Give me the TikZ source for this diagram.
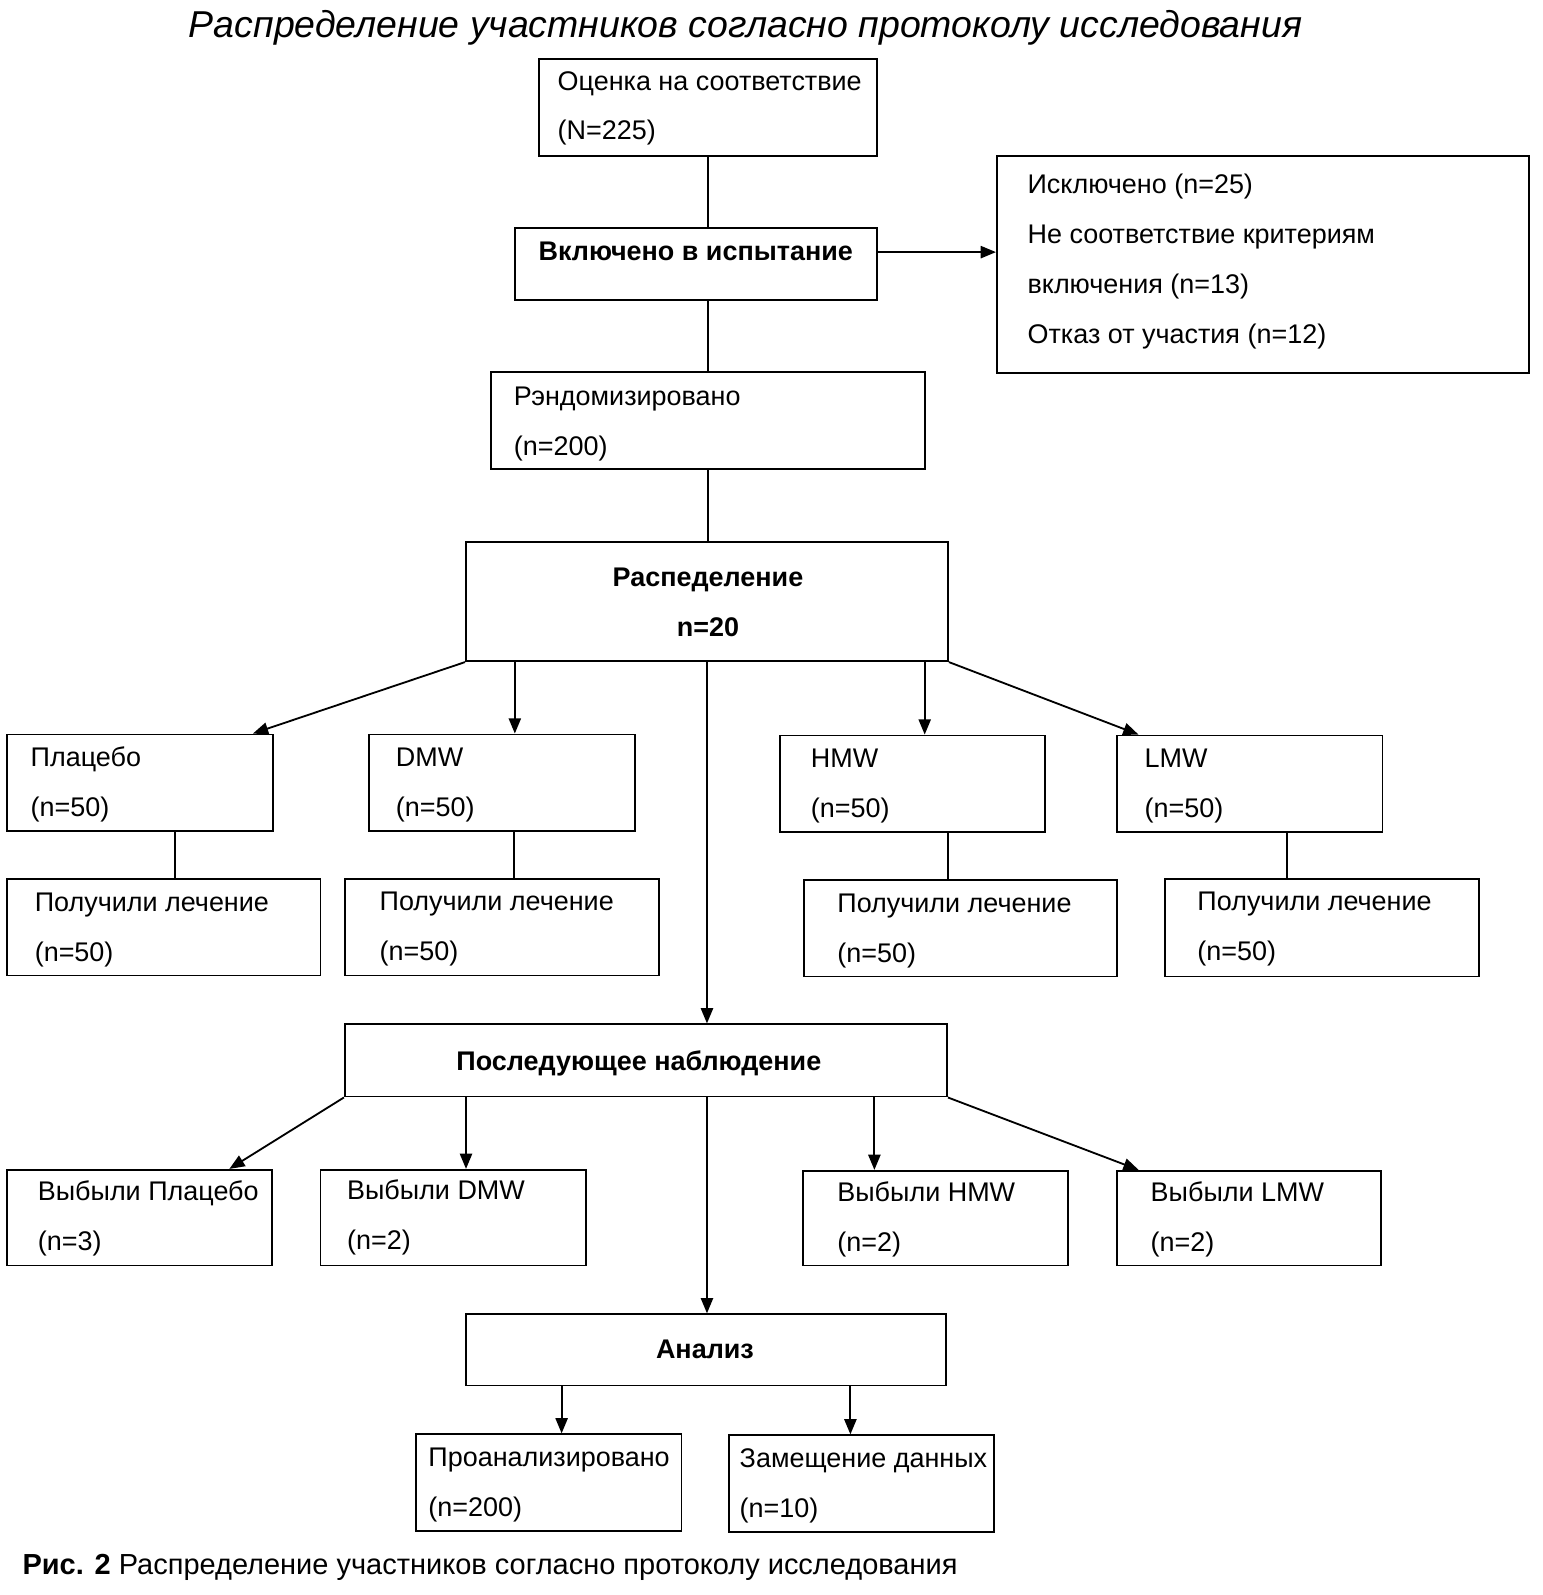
\documentclass[tikz,border=0pt]{standalone}
\usepackage{fontspec}
\setmainfont{Liberation Sans}
\usetikzlibrary{calc,arrows.meta}
\newcommand{\mybox}[5]{\node[boxst, minimum width={(#4-#2)*1pt}, minimum height={(#5-#3)*1pt}] (#1) at ({(#2+#4)/2},{(#3+#5)/2}) {};}
\newcommand{\myline}[4]{\node[txt, anchor=base west] (#1) at (#2,{#3+9.5}) {#4};}
\newcommand{\mybold}[4]{\node[txt, anchor=base, font=\fontsize{26.5}{30}\selectfont\bfseries] (#1) at (#2,{#3+9.5}) {#4};}
\begin{document}
\begin{tikzpicture}[x=1pt,y=-1pt,
  boxst/.style={draw, line width=1.8pt, rectangle, inner sep=0pt},
  txt/.style={inner sep=0pt, font=\fontsize{26.5}{30}\selectfont},
  conn/.style={line width=1.8pt},
  arr/.style={line width=1.8pt, -{Triangle[length=15pt,width=12pt]}}]
\useasboundingbox (0,0) rectangle (1516,1568);
\node[inner sep=0pt, anchor=base, font=\fontsize{36.8}{40}\selectfont\itshape] (title) at (733,37) {Распределение участников согласно протоколу исследования};
% boxes
\mybox{ocen}{530}{58}{862}{153}
\mybox{vkl}{506}{224}{862}{295}
\mybox{isk}{980}{153}{1503}{367}
\mybox{rand}{483}{366}{909}{461}
\mybox{rasp}{458}{533}{932}{650}
\mybox{plac}{7}{722}{268}{817}
\mybox{dmw}{363}{722}{624}{817}
\mybox{hmw}{767}{723}{1027}{818}
\mybox{lmw}{1098}{723}{1359}{818}
\mybox{polA}{7}{864}{315}{959}
\mybox{polB}{339}{864}{648}{959}
\mybox{polC}{790}{865}{1098}{960}
\mybox{polD}{1145}{864}{1454}{960}
\mybox{foll}{339}{1007}{931}{1078}
\mybox{vybA}{7}{1150}{267}{1244}
\mybox{vybB}{315}{1150}{576}{1244}
\mybox{vybC}{789}{1151}{1050}{1244}
\mybox{vybD}{1098}{1151}{1358}{1244}
\mybox{anal}{458}{1292}{930}{1362}
\mybox{proan}{409}{1410}{670}{1505}
\mybox{zam}{717}{1411}{977}{1506}
% texts
\myline{ocenA}{548}{79}{Оценка на соответствие}
\myline{ocenB}{548}{128}{(N=225)}
\mybold{vklA}{684}{247}{Включено в испытание}
\myline{iskA}{1010}{181}{Исключено (n=25)}
\myline{iskB}{1010}{230}{Не соответствие критериям}
\myline{iskC}{1010}{279}{включения (n=13)}
\myline{iskD}{1010}{328}{Отказ от участия (n=12)}
\myline{randA}{505}{389}{Рэндомизировано}
\myline{randB}{505}{438}{(n=200)}
\mybold{raspA}{696}{567}{Распеделение}
\mybold{raspB}{696}{616}{n=20}
\myline{placA}{30}{744}{Плацебо}
\myline{placB}{30}{793}{(n=50)}
\myline{dmwA}{389}{744}{DMW}
\myline{dmwB}{389}{793}{(n=50)}
\myline{hmwA}{797}{745}{HMW}
\myline{hmwB}{797}{794}{(n=50)}
\myline{lmwA}{1125}{745}{LMW}
\myline{lmwB}{1125}{794}{(n=50)}
\myline{polAa}{34}{887}{Получили лечение}
\myline{polAb}{34}{936}{(n=50)}
\myline{polBa}{373}{886}{Получили лечение}
\myline{polBb}{373}{935}{(n=50)}
\myline{polCa}{823}{888}{Получили лечение}
\myline{polCb}{823}{937}{(n=50)}
\myline{polDa}{1177}{886}{Получили лечение}
\myline{polDb}{1177}{935}{(n=50)}
\mybold{follA}{628}{1043}{Последующее наблюдение}
\myline{vybAa}{37}{1171}{Выбыли Плацебо}
\myline{vybAb}{37}{1220}{(n=3)}
\myline{vybBa}{341}{1170}{Выбыли DMW}
\myline{vybBb}{341}{1219}{(n=2)}
\myline{vybCa}{823}{1172}{Выбыли HMW}
\myline{vybCb}{823}{1221}{(n=2)}
\myline{vybDa}{1131}{1172}{Выбыли LMW}
\myline{vybDb}{1131}{1221}{(n=2)}
\mybold{analA}{693}{1326}{Анализ}
\myline{proanA}{421}{1432}{Проанализировано}
\myline{proanB}{421}{1481}{(n=200)}
\myline{zamA}{727}{1433}{Замещение данных}
\myline{zamB}{727}{1482}{(n=10)}
\node[inner sep=0pt, anchor=base west, font=\fontsize{28.5}{32}\selectfont] (caption) at (22,1548) {\textbf{Рис. 2} Распределение участников согласно протоколу исследования};
% connectors
\draw[conn] (ocen.south) -- (ocen.south |- vkl.north);
\coordinate (vklE) at ($(vkl.north east)!0.34!(vkl.south east)$);
\draw[arr] (vklE) -- (vklE -| isk.west);
\draw[conn] (rand.north |- vkl.south) -- (rand.north);
\draw[conn] (rand.south) -- (rand.south |- rasp.north);
% from rasp
\draw[arr] (rasp.south west) -- ($(plac.north west)!0.923!(plac.north east)$);
\coordinate (dmwT) at ($(dmw.north west)!0.548!(dmw.north east)$);
\draw[arr] (dmwT |- rasp.south) -- (dmwT);
\draw[arr] (rasp.south) -- (rasp.south |- foll.north);
\coordinate (hmwT) at ($(hmw.north west)!0.546!(hmw.north east)$);
\draw[arr] (hmwT |- rasp.south) -- (hmwT);
\draw[arr] (rasp.south east) -- ($(lmw.north west)!0.084!(lmw.north east)$);
% groups to treatment
\coordinate (placB) at ($(plac.south west)!0.63!(plac.south east)$);
\draw[conn] (placB) -- (placB |- polA.north);
\coordinate (dmwB) at ($(dmw.south west)!0.544!(dmw.south east)$);
\draw[conn] (dmwB) -- (dmwB |- polB.north);
\coordinate (hmwB) at ($(hmw.south west)!0.635!(hmw.south east)$);
\draw[conn] (hmwB) -- (hmwB |- polC.north);
\coordinate (lmwB) at ($(lmw.south west)!0.64!(lmw.south east)$);
\draw[conn] (lmwB) -- (lmwB |- polD.north);
% from follow-up
\draw[arr] (foll.south west) -- ($(vybA.north west)!0.838!(vybA.north east)$);
\coordinate (vybBT) at ($(vybB.north west)!0.548!(vybB.north east)$);
\draw[arr] (vybBT |- foll.south) -- (vybBT);
\draw[arr] (rasp.south |- foll.south) -- (rasp.south |- anal.north);
\coordinate (vybCT) at ($(vybC.north west)!0.272!(vybC.north east)$);
\draw[arr] (vybCT |- foll.south) -- (vybCT);
\draw[arr] (foll.south east) -- ($(vybD.north west)!0.085!(vybD.north east)$);
% analysis
\coordinate (proT) at ($(proan.north west)!0.548!(proan.north east)$);
\draw[arr] (proT |- anal.south) -- (proT);
\coordinate (zamT) at ($(zam.north west)!0.458!(zam.north east)$);
\draw[arr] (zamT |- anal.south) -- (zamT);
\end{tikzpicture}
\end{document}
